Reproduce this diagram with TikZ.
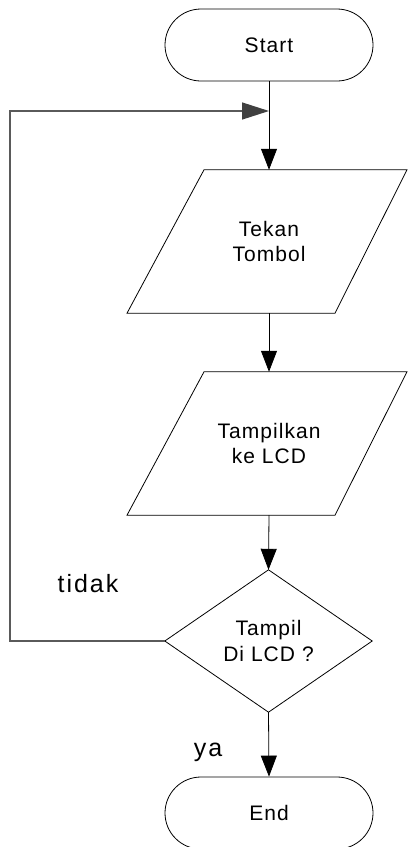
\documentclass[tikz,border=0pt]{standalone}
\usepackage{fontspec}
\setmainfont{Liberation Sans}
\newfontfamily\nodefont[LetterSpace=5]{Liberation Sans}
\newfontfamily\lblfont[LetterSpace=8]{Liberation Sans}
\usetikzlibrary{shapes.misc,arrows.meta,calc}
\definecolor{backline}{HTML}{5A5A5A}
\definecolor{backtip}{HTML}{404040}
\begin{document}
\begin{tikzpicture}[x=1pt,y=-1pt,
  txt/.style={inner sep=0pt, align=center, font=\nodefont\fontsize{21}{25.5}\selectfont},
  term/.style={txt, draw, rounded rectangle, minimum width=208pt, minimum height=72pt, line width=0.8pt},
  iobox/.style={txt, minimum width=150pt, minimum height=143pt},
  decbox/.style={txt, minimum width=207pt, minimum height=142pt},
  shapeline/.style={line width=0.8pt},
  flow/.style={line width=0.8pt, -{Triangle[length=21pt,width=16pt]}},
  back/.style={draw=backline, line width=1.4pt, -{Triangle[length=27pt,width=17pt,color=backtip]}},
  lbl/.style={inner sep=0pt, font=\lblfont\fontsize{25}{28}\selectfont, anchor=base}
]
\useasboundingbox (0,0) rectangle (408,847);
\node[term] (start) at (269,45) {Start};
\node[iobox] (p1) at (269,241.5) {Tekan\\Tombol};
\node[iobox] (p2) at (269,443.5) {Tampilkan\\ke LCD};
\node[decbox] (dmd) at (268.5,641) {Tampil\\Di LCD ?};
\node[term] (end) at (269,813) {End};

\draw[shapeline] ($(p1.north)+(-65,0)$) -- ($(p1.north)+(138,0)$) -- ($(p1.south)+(66,0)$) -- ($(p1.south)+(-142,0)$) -- cycle;
\draw[shapeline] ($(p2.north)+(-65,0)$) -- ($(p2.north)+(138,0)$) -- ($(p2.south)+(66,0)$) -- ($(p2.south)+(-142,0)$) -- cycle;
\draw[shapeline] (dmd.north) -- (dmd.east) -- (dmd.south) -- (dmd.west) -- cycle;

\draw[flow] (start.south) -- (p1.north);
\draw[flow] (p1.south) -- (p2.north);
\draw[flow] (p2.south) -- (dmd.north);
\draw[flow] (dmd.south) -- (end.north);

\coordinate (fb) at (269,111);
\coordinate (corner) at (10,111);
\draw[back] (dmd.west) -| (corner) -- (fb);

\node[lbl] (tidak) at (88,592) {tidak};
\node[lbl] (ya) at (208,756) {ya};
\end{tikzpicture}
\end{document}
